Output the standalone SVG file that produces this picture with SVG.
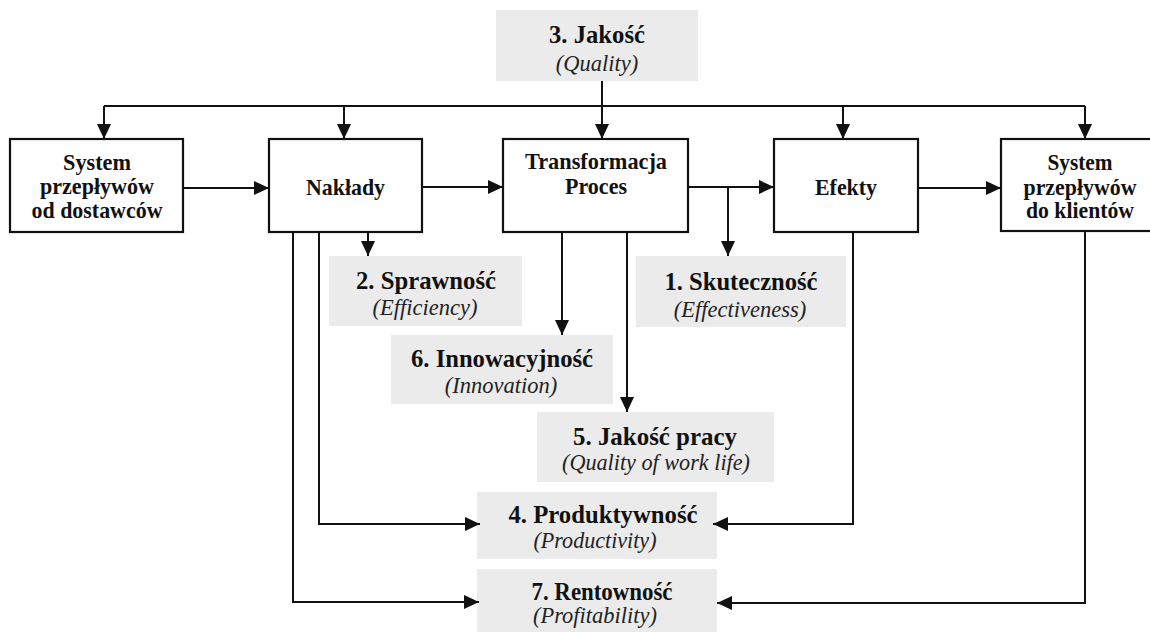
<svg xmlns="http://www.w3.org/2000/svg" width="1150" height="632" viewBox="0 0 1150 632">
<style>
.box{fill:#fff;stroke:#111;stroke-width:2.2}
.gbox{fill:#ebebeb;stroke:none}
.bt{font-family:"Liberation Serif","Times New Roman",serif;font-weight:bold;font-size:23px;fill:#111;text-anchor:middle}
.gt{font-family:"Liberation Serif","Times New Roman",serif;font-weight:bold;font-size:25px;fill:#111;text-anchor:middle}
.it{font-family:"Liberation Serif","Times New Roman",serif;font-style:italic;font-size:22.5px;fill:#222;text-anchor:middle}
.c{fill:none;stroke:#111;stroke-width:2}
</style>
<defs>
<marker id="ah" markerUnits="userSpaceOnUse" markerWidth="16" markerHeight="14" refX="15" refY="7" orient="auto">
<path d="M0,0 L15,7 L0,14 Z" fill="#111"/>
</marker>
</defs>
<rect width="1150" height="632" fill="#fff"/>

<g id="q3">
<rect class="gbox" x="496" y="10" width="202" height="71"/>
<text class="gt" x="597" y="43" textLength="96" lengthAdjust="spacingAndGlyphs">3. Jakość</text>
<text class="it" x="597" y="71">(Quality)</text>
</g>

<g id="dostawcy">
<rect class="box" x="10" y="139" width="173" height="93"/>
<text class="bt" x="97" y="170" textLength="68" lengthAdjust="spacingAndGlyphs">System</text>
<text class="bt" x="97" y="194" textLength="114" lengthAdjust="spacingAndGlyphs">przepływów</text>
<text class="bt" x="97" y="218" textLength="131" lengthAdjust="spacingAndGlyphs">od dostawców</text>
</g>

<g id="naklady">
<rect class="box" x="269" y="139" width="153" height="93"/>
<text class="bt" x="345.5" y="195" textLength="79" lengthAdjust="spacingAndGlyphs">Nakłady</text>
</g>

<g id="transformacja">
<rect class="box" x="503" y="139" width="185" height="93"/>
<text class="bt" x="596" y="169" textLength="142" lengthAdjust="spacingAndGlyphs">Transformacja</text>
<text class="bt" x="596" y="194" textLength="62" lengthAdjust="spacingAndGlyphs">Proces</text>
</g>

<g id="efekty">
<rect class="box" x="774" y="139" width="144" height="93"/>
<text class="bt" x="846" y="195" textLength="62" lengthAdjust="spacingAndGlyphs">Efekty</text>
</g>

<g id="klienci">
<rect class="box" x="1001" y="139" width="160" height="92"/>
<text class="bt" x="1080" y="170" textLength="65" lengthAdjust="spacingAndGlyphs">System</text>
<text class="bt" x="1080" y="195" textLength="113" lengthAdjust="spacingAndGlyphs">przepływów</text>
<text class="bt" x="1080" y="218" textLength="108" lengthAdjust="spacingAndGlyphs">do klientów</text>
</g>

<g id="q2">
<rect class="gbox" x="329" y="256" width="193" height="70"/>
<text class="gt" x="426" y="289" textLength="140" lengthAdjust="spacingAndGlyphs">2. Sprawność</text>
<text class="it" x="425" y="315">(Efficiency)</text>
</g>

<g id="q1">
<rect class="gbox" x="636" y="256" width="210" height="71"/>
<text class="gt" x="741" y="290" textLength="153" lengthAdjust="spacingAndGlyphs">1. Skuteczność</text>
<text class="it" x="740" y="317">(Effectiveness)</text>
</g>

<g id="q6">
<rect class="gbox" x="391" y="335" width="222" height="69"/>
<text class="gt" x="502" y="367" textLength="182" lengthAdjust="spacingAndGlyphs">6. Innowacyjność</text>
<text class="it" x="501" y="393">(Innovation)</text>
</g>

<g id="q5">
<rect class="gbox" x="537" y="412" width="237" height="70"/>
<text class="gt" x="655" y="445" textLength="164" lengthAdjust="spacingAndGlyphs">5. Jakość pracy</text>
<text class="it" x="656" y="470" textLength="188" lengthAdjust="spacingAndGlyphs">(Quality of work life)</text>
</g>

<g id="q4">
<rect class="gbox" x="477" y="492" width="240" height="67"/>
<text class="gt" x="603" y="523" textLength="189" lengthAdjust="spacingAndGlyphs">4. Produktywność</text>
<text class="it" x="595" y="548" textLength="123" lengthAdjust="spacingAndGlyphs">(Productivity)</text>
</g>

<g id="q7">
<rect class="gbox" x="477" y="569" width="240" height="70"/>
<text class="gt" x="602" y="600" textLength="141" lengthAdjust="spacingAndGlyphs">7. Rentowność</text>
<text class="it" x="595" y="623" textLength="124" lengthAdjust="spacingAndGlyphs">(Profitability)</text>
</g>

<g id="connectors">
<path class="c" d="M104,106 H1085"/>
<path class="c" d="M104,106 V139" marker-end="url(#ah)"/>
<path class="c" d="M344,106 V139" marker-end="url(#ah)"/>
<path class="c" d="M602,81 V139" marker-end="url(#ah)"/>
<path class="c" d="M843,106 V139" marker-end="url(#ah)"/>
<path class="c" d="M1085,106 V139" marker-end="url(#ah)"/>
<path class="c" d="M183,188 H269" marker-end="url(#ah)"/>
<path class="c" d="M422,187 H503" marker-end="url(#ah)"/>
<path class="c" d="M688,187 H774" marker-end="url(#ah)"/>
<path class="c" d="M918,188 H1001" marker-end="url(#ah)"/>
<path class="c" d="M728,187 V256" marker-end="url(#ah)"/>
<path class="c" d="M368,232 V256" marker-end="url(#ah)"/>
<path class="c" d="M562,232 V335" marker-end="url(#ah)"/>
<path class="c" d="M627,232 V412" marker-end="url(#ah)"/>
<path class="c" d="M319,232 V524 H480" marker-end="url(#ah)"/>
<path class="c" d="M293,232 V602 H479" marker-end="url(#ah)"/>
<path class="c" d="M853,232 V524 H713" marker-end="url(#ah)"/>
<path class="c" d="M1085,231 V603 H717" marker-end="url(#ah)"/>
</g>
</svg>
